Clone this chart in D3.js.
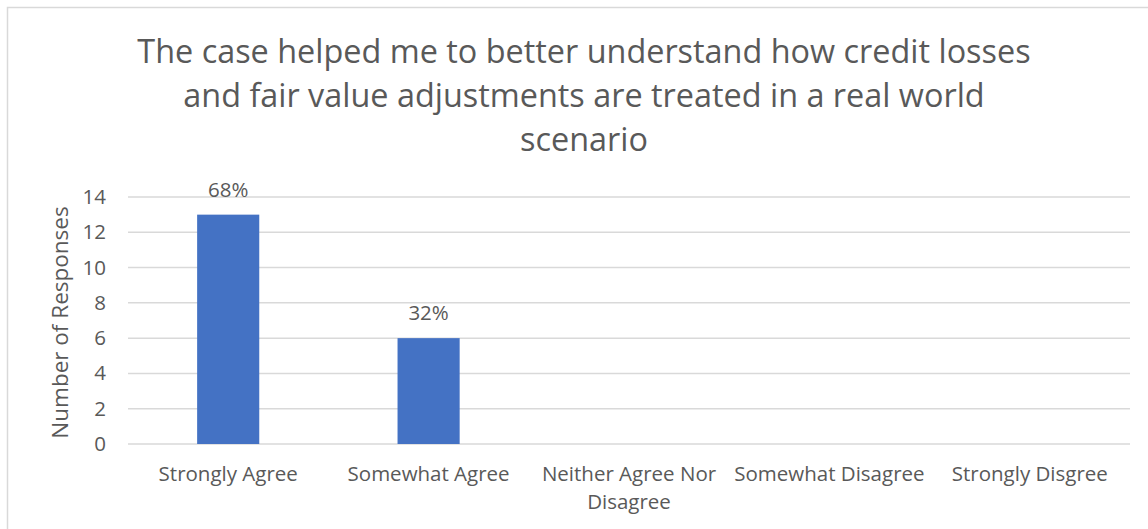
<!DOCTYPE html>
<html>
<head>
<meta charset="utf-8">
<script src="https://cdn.jsdelivr.net/npm/d3@7"></script>
<style>
  body { margin: 0; background: #fff; }
  svg text { font-family: "Open Sans", "Noto Sans", sans-serif; fill: #595959; }
</style>
</head>
<body>
<div id="chart"></div>
<script>
// data
var categories = ["Strongly Agree", "Somewhat Agree", "Neither Agree Nor Disagree", "Somewhat Disagree", "Strongly Disgree"];
var responses = [13, 6, 0, 0, 0];
var percentLabels = ["68%", "32%", "", "", ""];
var yTicks = [0, 2, 4, 6, 8, 10, 12, 14];
var titleLines = ["The case helped me to better understand how credit losses",
                  "and fair value adjustments are treated in a real world",
                  "scenario"];
var yTitle = "Number of Responses";

var width = 1148, height = 529;
var margin = {top: 197, right: 18, bottom: 85, left: 128};

var svg = d3.select("#chart").append("svg")
    .attr("width", width)
    .attr("height", height);

// chart frame
svg.append("rect")
    .attr("x", 7.5).attr("y", 7.5)
    .attr("width", width + 20).attr("height", height + 20)
    .attr("fill", "#fff")
    .attr("stroke", "#d9d9d9")
    .attr("stroke-width", 1.5);

var x = d3.scaleBand()
    .domain(categories)
    .range([margin.left, width - margin.right])
    .paddingInner(0.69)
    .paddingOuter(0.345);

var y = d3.scaleLinear()
    .domain([0, 14])
    .range([height - margin.bottom, margin.top]);

// gridlines
svg.append("g")
    .selectAll("line")
    .data(yTicks)
    .enter()
    .append("line")
    .attr("x1", margin.left)
    .attr("x2", width - margin.right)
    .attr("y1", function(d){ return y(d); })
    .attr("y2", function(d){ return y(d); })
    .attr("stroke", "#d9d9d9")
    .attr("stroke-width", 1.5);

// y axis labels
var yAxis = d3.axisLeft(y).tickValues(yTicks).tickSize(0).tickPadding(22);
var yg = svg.append("g")
    .attr("transform", "translate(" + margin.left + ",0)")
    .call(yAxis);
yg.select(".domain").remove();
yg.selectAll("text")
    .style("font-family", "'Open Sans', sans-serif")
    .attr("font-size", 20.5)
    .attr("fill", "#595959");

// bars
svg.append("g")
    .selectAll("rect")
    .data(responses)
    .enter()
    .append("rect")
    .attr("x", function(d,i){ return x(categories[i]); })
    .attr("y", function(d){ return y(d); })
    .attr("width", x.bandwidth())
    .attr("height", function(d){ return y(0) - y(d); })
    .attr("fill", "#4472c4");

// data labels
svg.append("g")
    .selectAll("text")
    .data(responses)
    .enter()
    .append("text")
    .attr("x", function(d,i){ return x(categories[i]) + x.bandwidth() / 2; })
    .attr("y", function(d){ return y(d) - 18; })
    .attr("text-anchor", "middle")
    .attr("font-size", 20.5)
    .attr("fill", "#404040")
    .text(function(d,i){ return percentLabels[i]; });

// x category labels, wrapped to band step
var step = x.step();
var catG = svg.append("g");
categories.forEach(function(c, i){
    var cx = x(c) + x.bandwidth() / 2;
    var t = catG.append("text")
        .attr("text-anchor", "middle")
        .attr("font-size", 20.5);
    var words = c.split(" "), line = [], lines = [];
    var probe = catG.append("text").attr("font-size", 20.5);
    words.forEach(function(w){
        var test = line.concat([w]).join(" ");
        probe.text(test);
        if (probe.node().getComputedTextLength() > step && line.length) {
            lines.push(line.join(" "));
            line = [w];
        } else {
            line.push(w);
        }
    });
    lines.push(line.join(" "));
    probe.remove();
    lines.forEach(function(l, j){
        t.append("tspan")
            .attr("x", cx)
            .attr("y", 481 + j * 28)
            .text(l);
    });
});

// y axis title
svg.append("text")
    .attr("transform", "translate(68," + (y(7) + 2) + ") rotate(-90)")
    .attr("text-anchor", "middle")
    .attr("font-size", 22.5)
    .text(yTitle);

// chart title
var title = svg.append("text")
    .attr("text-anchor", "middle")
    .attr("font-size", 32.4);
titleLines.forEach(function(l, i){
    title.append("tspan")
        .attr("x", 584)
        .attr("y", 63 + i * 44)
        .text(l);
});
</script>
</body>
</html>
